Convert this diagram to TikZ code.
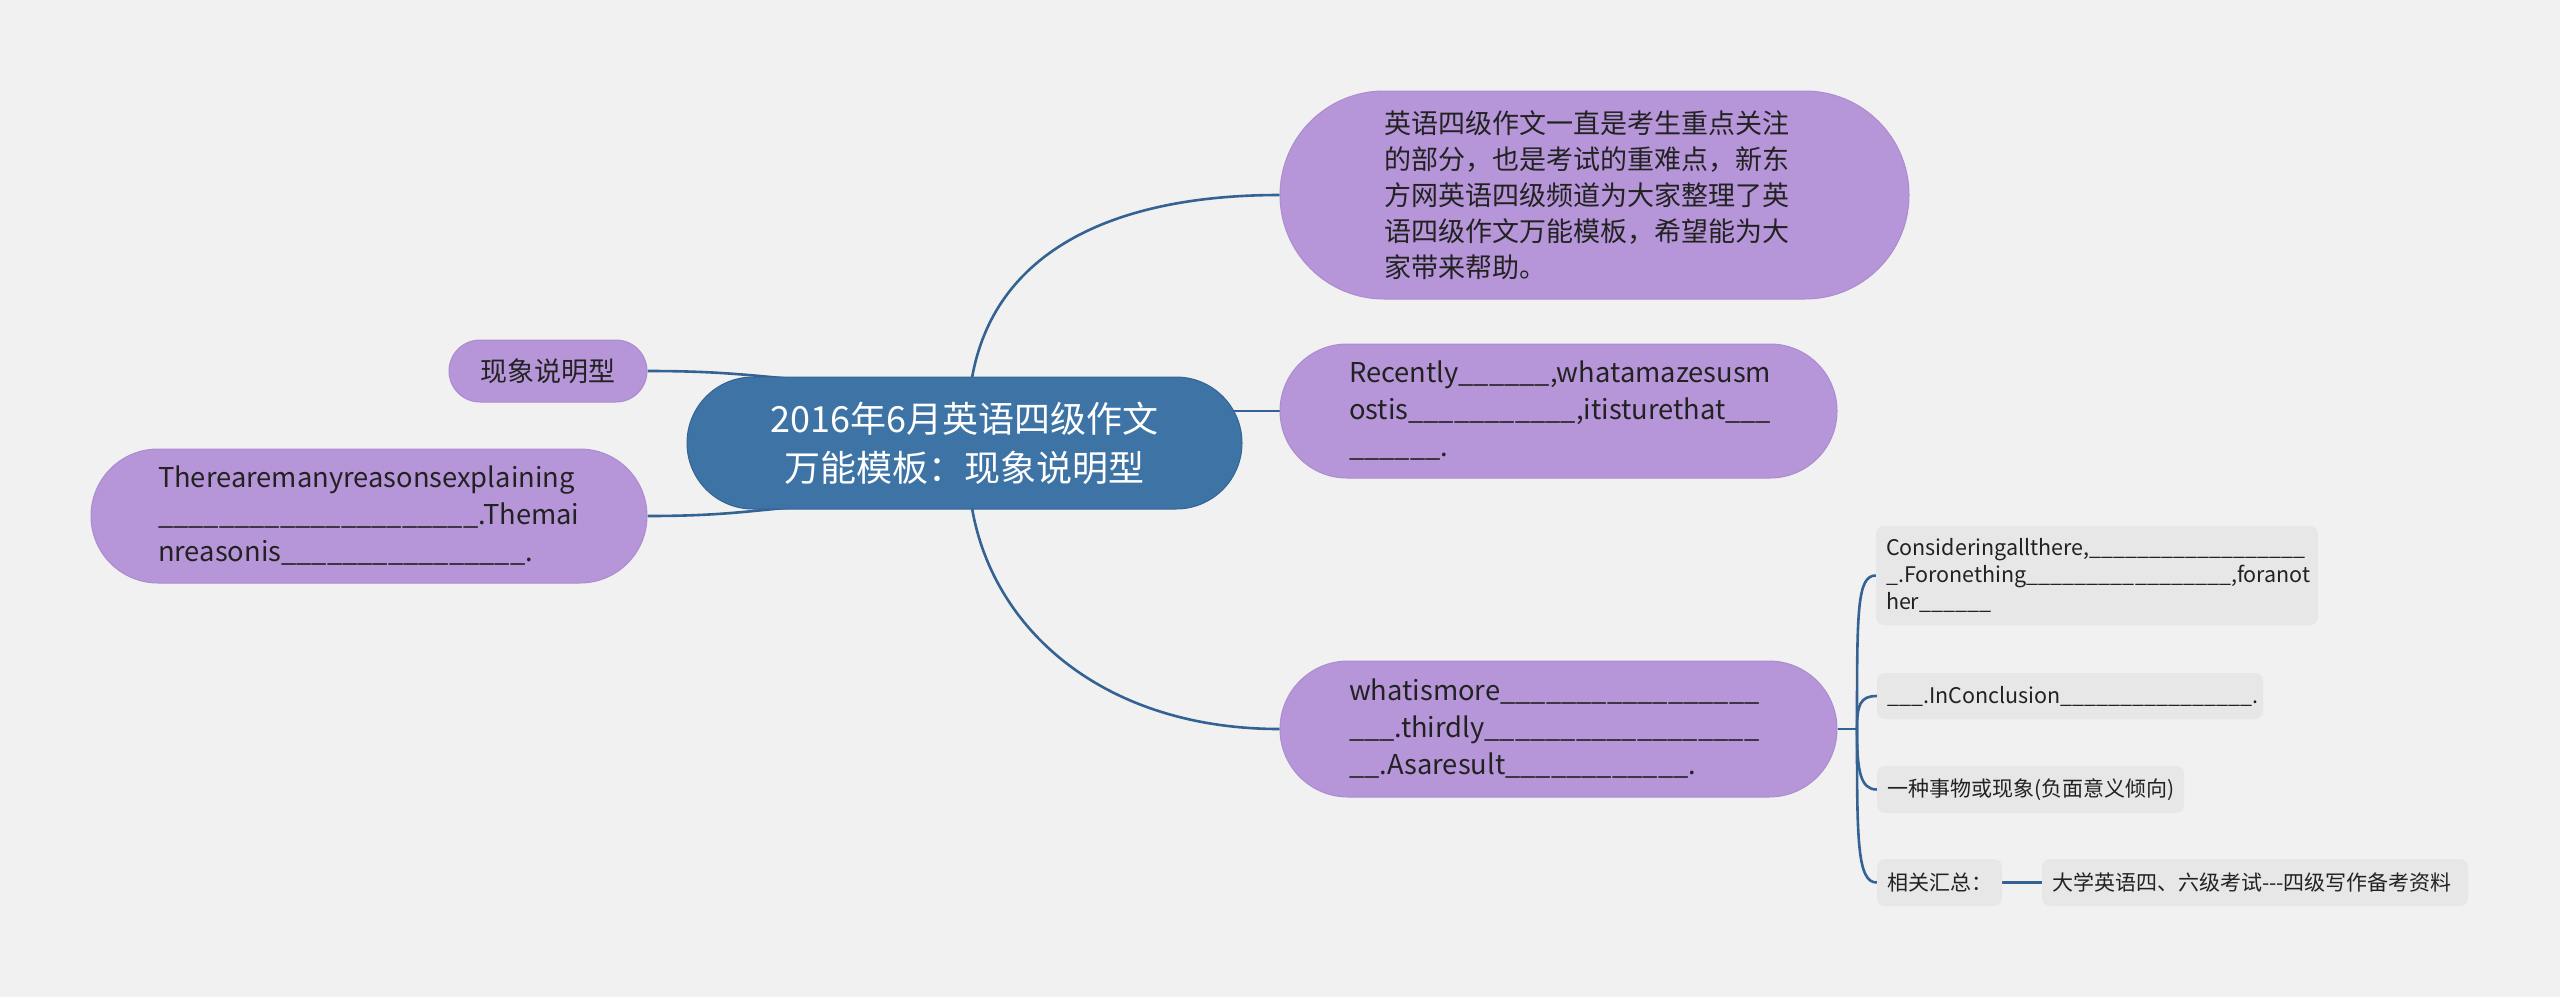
\documentclass[tikz,border=0pt]{standalone}
\usepackage{fontspec}
\setmainfont{Noto Sans CJK SC}
\pgfdeclarelayer{bg}
\pgfsetlayers{bg,main}
\definecolor{bgc}{RGB}{241,241,241}
\definecolor{mainblue}{RGB}{61,115,165}
\definecolor{mainedge}{RGB}{52,100,148}
\definecolor{linec}{RGB}{52,98,146}
\definecolor{purp}{RGB}{182,150,216}
\definecolor{purpedge}{RGB}{172,140,208}
\definecolor{grayc}{RGB}{231,231,231}
\definecolor{txt}{RGB}{34,34,34}
\ExplSyntaxOn
\cs_new:Npn \ublank #1 {\prg_replicate:nn {#1} {\textunderscore}}
\ExplSyntaxOff
\begin{document}
\begin{tikzpicture}[x=1pt,y=-1pt,
  centralbox/.style={fill=mainblue, draw=mainedge, line width=1pt, text=white, align=center,
    font=\fontsize{36}{49}\selectfont, inner sep=0pt},
  pbox/.style={fill=purp, draw=purpedge, line width=1pt, text=txt, inner ysep=0pt},
  gbox/.style={fill=grayc, rounded corners=8pt, text=txt, inner xsep=10pt, inner ysep=0pt, align=left},
  conn/.style={draw=linec, line width=2.6pt},
  bigcjk/.style={font=\fontsize{27}{36}\selectfont},
  biglat/.style={font=\fontsize{27.3}{37}\selectfont},
  smcjk/.style={font=\fontsize{21}{27}\selectfont},
  smlat/.style={font=\fontsize{21.5}{27}\selectfont},
]
\useasboundingbox (0,0) rectangle (2560,997);

% central
\node[centralbox, minimum width=555pt, minimum height=132pt, rounded corners=66pt] (ctr) at (964.5,443)
  {2016年6月英语四级作文\\万能模板：现象说明型};

% right main branches
\node[pbox, bigcjk, minimum height=208pt, rounded corners=104pt, inner xsep=104pt, text width=421pt, align=left] (n1) at (1594.5,195)
  {英语四级作文一直是考生重点关注\\的部分，也是考试的重难点，新东\\方网英语四级频道为大家整理了英\\语四级作文万能模板，希望能为大\\家带来帮助。};

\node[pbox, biglat, minimum height=134pt, rounded corners=67pt, inner xsep=69pt, text width=419pt, align=left] (n2) at (1558.5,411)
  {Recently\ublank{6},whatamazesusm\\ostis\ublank{11},itisturethat\ublank{3}\\\ublank{6}.};

\node[pbox, biglat, minimum height=136pt, rounded corners=68pt, inner xsep=69pt, text width=419pt, align=left] (n4) at (1558.5,729)
  {whatismore\ublank{17}\\\ublank{3}.thirdly\ublank{18}\\\ublank{2}.Asaresult\ublank{12}.};

% left branches
\node[pbox, bigcjk, minimum width=198pt, minimum height=62pt, rounded corners=31pt, inner xsep=0pt, align=center] (sm) at (548,371)
  {现象说明型};

\node[pbox, biglat, minimum height=134pt, rounded corners=67pt, inner xsep=67pt, text width=422pt, align=left] (n3) at (369,516)
  {Therearemanyreasonsexplaining\\\ublank{21}.Themai\\nreasonis\ublank{16}.};

% sub branches of n4
\node[gbox, smlat, minimum height=99pt, text width=422pt] (c1) at (2097,575.5)
  {Consideringallthere,\ublank{18}\\\ublank{1}.Foronething\ublank{17},foranot\\her\ublank{6}};
\node[gbox, smlat, minimum height=46pt, text width=366pt] (c2) at (2070,696)
  {\ublank{3}.InConclusion\ublank{16}.};
\node[gbox, smcjk, minimum height=47pt, text width=287pt] (c3) at (2030.5,789.5)
  {一种事物或现象(负面意义倾向)};
\node[gbox, smcjk, minimum height=47pt, text width=105pt] (c4) at (1939.5,882.5)
  {相关汇总：};
\node[gbox, smcjk, minimum height=47pt, text width=406pt] (c5) at (2255,882.5)
  {大学英语四、六级考试-{}-{}-四级写作备考资料};

\coordinate (ctrT) at (970,392);
\coordinate (ctrB) at (970,494);
\coordinate (ctrR) at (1215,411);
\coordinate (ctrTL) at (850,383);
\coordinate (ctrBL) at (850,503);
\coordinate (hub) at (1857,729);

\begin{pgfonlayer}{bg}
  \fill[bgc] (0,0) rectangle (2560,997);
  \draw[conn] (ctrT) .. controls (985,260) and (1100,195) .. (n1.west);
  \draw[conn] (ctrR) -- (n2.west);
  \draw[conn] (ctrB) .. controls (985,625) and (1100,729) .. (n4.west);
  \draw[conn] (sm.east) .. controls (740,371) and (760,378) .. (ctrTL);
  \draw[conn] (n3.east) .. controls (740,516) and (760,508) .. (ctrBL);
  \draw[conn] (n4.east) -- (hub);
  \draw[conn] (hub) .. controls (1857,610) and (1857,575.5) .. (c1.west);
  \draw[conn] (hub) .. controls (1857,705) and (1860,696) .. (c2.west);
  \draw[conn] (hub) .. controls (1857,770) and (1860,789.5) .. (c3.west);
  \draw[conn] (hub) .. controls (1857,840) and (1857,882.5) .. (c4.west);
  \draw[conn] (c4.east) -- (c5.west);
\end{pgfonlayer}
\end{tikzpicture}
\end{document}
